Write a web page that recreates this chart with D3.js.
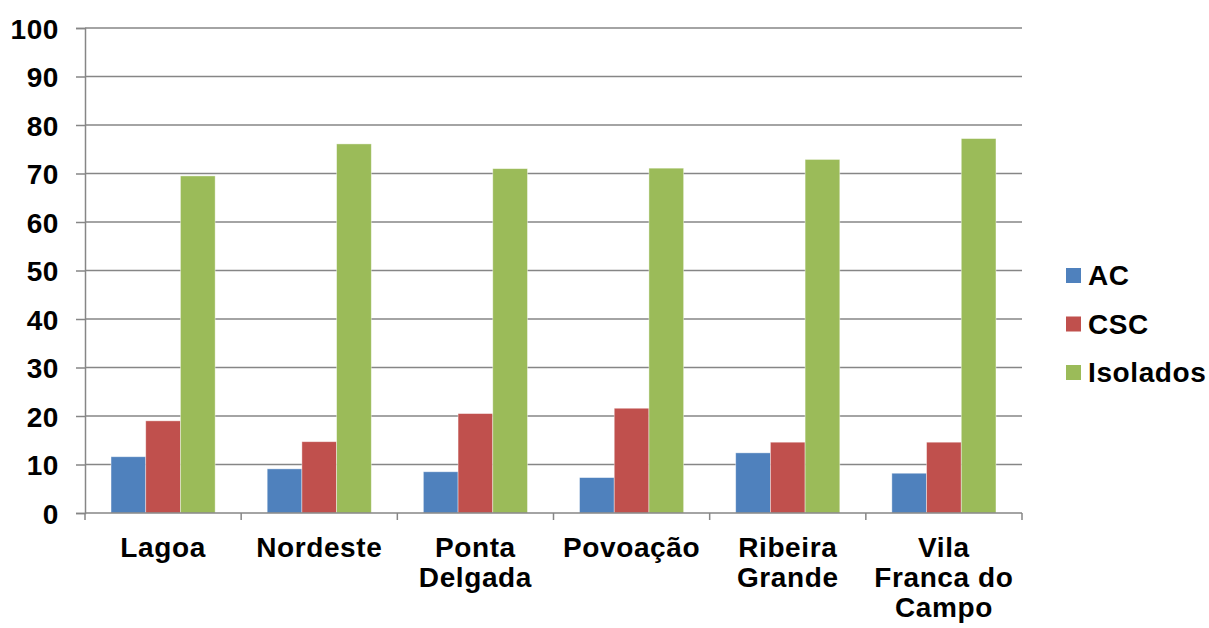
<!DOCTYPE html>
<html>
<head>
<meta charset="utf-8">
<script src="https://cdn.jsdelivr.net/npm/d3@7"></script>
<style>
  body { margin: 0; background: #fff; }
  text { font-family: "Liberation Sans", Arial, sans-serif; font-weight: bold; fill: #000; letter-spacing: 0.6px; }
</style>
</head>
<body>
<svg id="chart" width="1209" height="628"></svg>
<script>
const categories = [
  ['Lagoa'],
  ['Nordeste'],
  ['Ponta', 'Delgada'],
  ['Povoação'],
  ['Ribeira', 'Grande'],
  ['Vila', 'Franca do', 'Campo']
];
const seriesNames = ['AC', 'CSC', 'Isolados'];
const seriesColors = ['#4F81BD', '#C0504D', '#9BBB59'];
const acValues = [11.6, 9.1, 8.5, 7.3, 12.4, 8.2];
const cscValues = [19.0, 14.7, 20.5, 21.6, 14.6, 14.6];
const isoladosValues = [69.5, 76.1, 71.0, 71.1, 72.9, 77.2];
const yTicks = [0, 10, 20, 30, 40, 50, 60, 70, 80, 90, 100];

const allSeries = [acValues, cscValues, isoladosValues];

const svg = d3.select('#chart');
const plotLeft = 85, plotRight = 1022, plotTop = 28, plotBottom = 513;

const x0 = d3.scaleBand()
  .domain(d3.range(categories.length))
  .range([plotLeft, plotRight])
  .padding(0);

const x1 = d3.scaleBand()
  .domain(d3.range(seriesNames.length))
  .range([0, x0.bandwidth()])
  .paddingInner(0)
  .paddingOuter(0.75);

const y = d3.scaleLinear().domain([0, 100]).range([plotBottom, plotTop]);

// Gridlines
svg.append('g')
  .selectAll('line')
  .data(yTicks.filter(d => d > 0))
  .enter()
  .append('line')
  .attr('x1', plotLeft)
  .attr('x2', plotRight)
  .attr('y1', d => y(d))
  .attr('y2', d => y(d))
  .attr('stroke', '#868686')
  .attr('stroke-width', 1.5);

// Bars
const groups = svg.append('g')
  .selectAll('g')
  .data(categories)
  .enter()
  .append('g')
  .attr('transform', (d, i) => `translate(${x0(i)},0)`);

groups.selectAll('rect')
  .data((d, i) => allSeries.map((s, j) => ({ series: j, value: s[i] })))
  .enter()
  .append('rect')
  .attr('x', d => x1(d.series))
  .attr('width', x1.bandwidth())
  .attr('y', d => y(d.value))
  .attr('height', d => y(0) - y(d.value))
  .attr('fill', d => seriesColors[d.series])
  .attr('stroke', '#ffffff')
  .attr('stroke-opacity', 0.5)
  .attr('stroke-width', 0.8);

// Y axis
const yAxis = svg.append('g')
  .attr('transform', `translate(${plotLeft},0)`)
  .call(d3.axisLeft(y).tickValues(yTicks).tickSize(9).tickPadding(17));
yAxis.select('.domain').attr('stroke', '#868686').attr('stroke-width', 1.5);
yAxis.selectAll('.tick line').attr('stroke', '#868686').attr('stroke-width', 1.5);
yAxis.selectAll('.tick text')
  .style('font-size', '28px')
  .attr('fill', '#000')
  .attr('dy', '0.36em');

// X axis
const xAxisLine = svg.append('g');
xAxisLine.append('line')
  .attr('x1', plotLeft).attr('x2', plotRight)
  .attr('y1', plotBottom).attr('y2', plotBottom)
  .attr('stroke', '#868686').attr('stroke-width', 1.5);
xAxisLine.selectAll('.xtick')
  .data(d3.range(categories.length + 1))
  .enter()
  .append('line')
  .attr('x1', i => plotLeft + i * x0.step())
  .attr('x2', i => plotLeft + i * x0.step())
  .attr('y1', plotBottom)
  .attr('y2', plotBottom + 7)
  .attr('stroke', '#868686').attr('stroke-width', 1.5);

const labels = svg.append('g')
  .selectAll('text')
  .data(categories)
  .enter()
  .append('text')
  .attr('text-anchor', 'middle')
  .attr('x', (d, i) => x0(i) + x0.bandwidth() / 2)
  .attr('y', 557)
  .style('font-size', '28px');

labels.selectAll('tspan')
  .data(d => d)
  .enter()
  .append('tspan')
  .attr('x', function () { return this.parentNode.getAttribute('x'); })
  .attr('dy', (d, i) => i === 0 ? 0 : 30)
  .text(d => d);

// Legend
const legend = svg.append('g')
  .selectAll('g')
  .data(seriesNames)
  .enter()
  .append('g')
  .attr('transform', (d, i) => `translate(1066,${275 + i * 48.5})`);

legend.append('rect')
  .attr('x', 0)
  .attr('y', -7)
  .attr('width', 15)
  .attr('height', 15)
  .attr('fill', (d, i) => seriesColors[i]);

legend.append('text')
  .attr('x', 22)
  .attr('y', 0)
  .attr('dy', '0.36em')
  .style('font-size', '28px')
  .text(d => d);
</script>
</body>
</html>
